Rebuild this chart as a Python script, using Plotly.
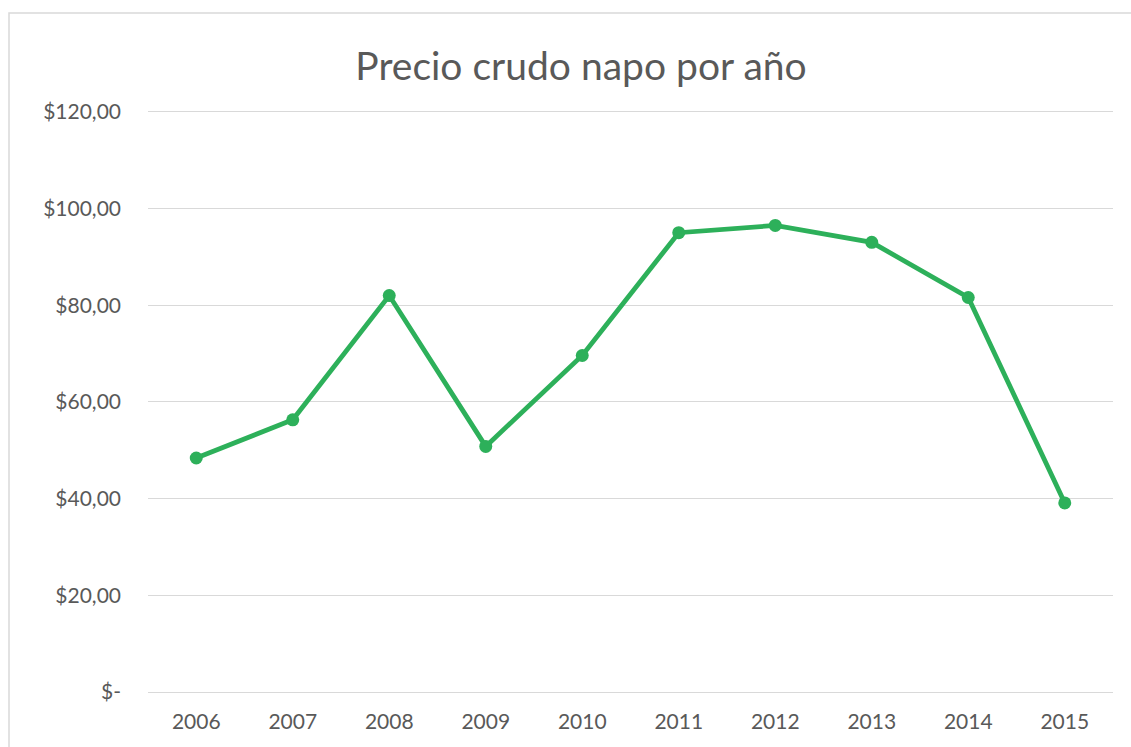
import plotly.graph_objects as go

years = ["2006", "2007", "2008", "2009", "2010", "2011", "2012", "2013", "2014", "2015"]
precio = [48.4, 56.3, 82.0, 50.8, 69.6, 95.0, 96.5, 93.0, 81.6, 39.1]
ytick_vals = [0, 20, 40, 60, 80, 100, 120]
ytick_text = ["$-", "$20,00", "$40,00", "$60,00", "$80,00", "$100,00", "$120,00"]
title_text = "Precio crudo napo por año"

FONT = "Lato, 'Open Sans', sans-serif"
GRAY = "#595959"
GREEN = "#2DB05A"

fig = go.Figure()
fig.add_trace(go.Scatter(
    x=years, y=precio, mode="lines+markers",
    line=dict(color=GREEN, width=4.8),
    marker=dict(color=GREEN, size=13),
    showlegend=False, hoverinfo="x+y",
))

fig.update_layout(
    width=1131, height=747,
    margin=dict(l=148, r=18, t=107, b=55),
    paper_bgcolor="white", plot_bgcolor="white",
    font=dict(family=FONT, color=GRAY, size=21),
    title=dict(text=title_text, x=581/1131, xanchor="center", xref="container",
               y=1 - 66/747, yanchor="middle", yref="container",
               font=dict(family=FONT, size=39, color=GRAY)),
    xaxis=dict(type="category", range=[-0.5, 9.5], showgrid=False, showline=False,
               zeroline=False, ticks="", tickfont=dict(size=21, color=GRAY),
               ticklabelstandoff=15),
    yaxis=dict(range=[0, 121], tickvals=ytick_vals, ticktext=ytick_text,
               showgrid=True, gridcolor="#D9D9D9", gridwidth=1.3,
               zeroline=True, zerolinecolor="#D9D9D9", zerolinewidth=1.3,
               showline=False, ticks="", tickfont=dict(size=21, color=GRAY),
               ticklabelstandoff=26),
    shapes=[dict(type="rect", xref="paper", yref="paper",
                 x0=(9 - 148) / 965, x1=(1145 - 148) / 965,
                 y0=(692 - 760) / 585, y1=(692 - 13) / 585,
                 line=dict(color="#D9D9D9", width=1.5), fillcolor="rgba(0,0,0,0)",
                 layer="below")],
)

fig.write_html("out.html", config={"displayModeBar": False},
               post_script="document.body.style.margin='0';document.body.style.overflow='hidden';")
